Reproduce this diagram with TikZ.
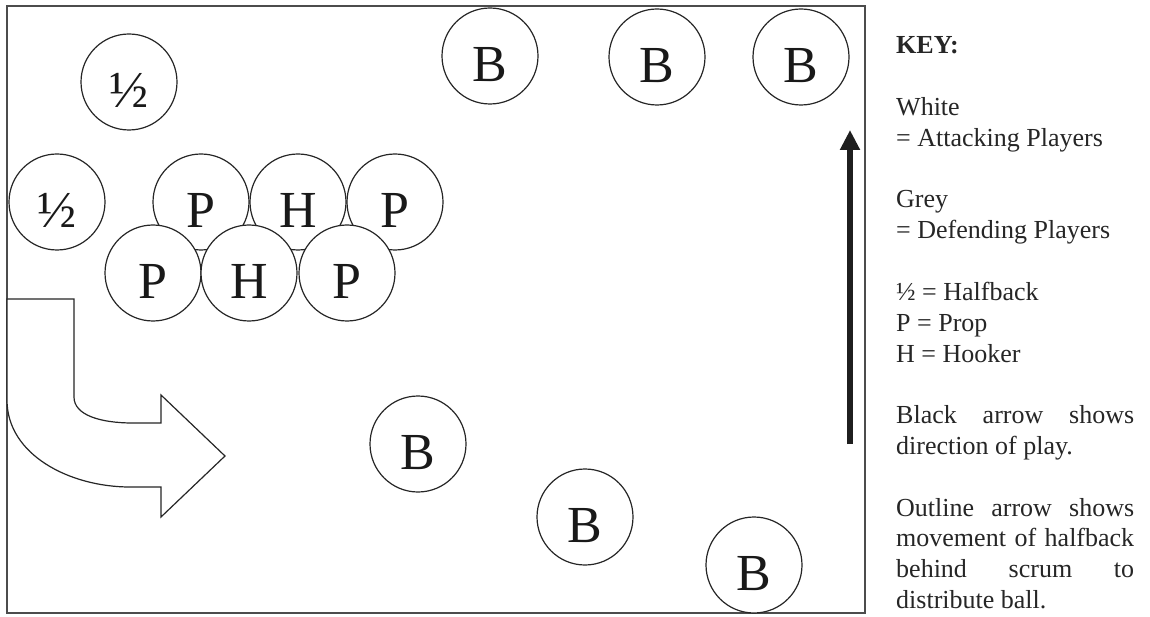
\documentclass[tikz,border=0pt]{standalone}
\usepackage{fontspec}
\setmainfont{Liberation Serif}
\usetikzlibrary{arrows.meta}
\newcommand\plfont{\fontsize{52}{52}\selectfont}
\newcommand\keyfnt{\fontsize{26}{30.8}\selectfont}
\tikzset{
  player/.style={circle, draw=black!85, line width=1.2pt, fill=white,
    minimum size=96pt, inner sep=0pt, font=\plfont, text=black!90,
    text height=51pt, text depth=0pt},
  keyline/.style={anchor=base west, inner sep=0pt, font=\keyfnt, text=black!85},
  fieldframe/.style={draw=black!70, line width=1.4pt},
  playarrow/.style={line width=6pt, draw=black!88, -{Triangle[width=19pt,length=20pt]}},
  movearrow/.style={draw=black!85, line width=1.2pt, fill=white, line join=miter}
}
\begin{document}
\begin{tikzpicture}[x=1pt,y=-1pt]
\useasboundingbox[fill=white] (0,0) rectangle (1150,617);
% field
\draw[fieldframe] (7,6) rectangle (865,613);
% outline arrow
\draw[movearrow] (7,299) -- (74,299) -- (74,397)
  .. controls (74,415) and (100,423) .. (133,423) -- (161,423) -- (161,395)
  -- (225,456) -- (161,517) -- (161,487) -- (130,487)
  .. controls (70,487) and (7,455) .. (7,400) -- cycle;
% halfbacks
\node[player] (h1) at (129,82) {½};
\node[player] (h2) at (57,202) {½};
% scrum top row
\node[player] (tp1) at (201,202) {P};
\node[player] (th)  at (298,202) {H};
\node[player] (tp2) at (395,202) {P};
% scrum bottom row
\node[player] (bp1) at (153,273) {P};
\node[player] (bh)  at (249,273) {H};
\node[player] (bp2) at (347,273) {P};
% backs
\node[player] (b1) at (490,56) {B};
\node[player] (b2) at (657,57) {B};
\node[player] (b3) at (801,57) {B};
\node[player] (b4) at (418,444) {B};
\node[player] (b5) at (585,517) {B};
\node[player] (b6) at (754,565) {B};
% direction of play
\coordinate (pa0) at (850,444);
\coordinate (pa1) at (850,130);
\draw[playarrow] (pa0) -- (pa1);
% key
\node[keyline] (k0) at (896,54) {\textbf{KEY:}};
\node[keyline] (k1) at (896,115.6) {White};
\node[keyline] (k2) at (896,146.4) {= Attacking Players};
\node[keyline] (k3) at (896,208) {Grey};
\node[keyline] (k4) at (896,238.8) {= Defending Players};
\node[keyline] (k5) at (896,300.4) {½ = Halfback};
\node[keyline] (k6) at (896,331.2) {P = Prop};
\node[keyline] (k7) at (896,362) {H = Hooker};
\node[keyline] (k8) at (896,423.6) {\hbox to 238pt{Black\hfill arrow\hfill shows}};
\node[keyline] (k9) at (896,454.4) {direction of play.};
\node[keyline] (k10) at (896,516) {\hbox to 238pt{Outline\hfill arrow\hfill shows}};
\node[keyline] (k11) at (896,546.8) {\hbox to 238pt{movement\hfill of\hfill halfback}};
\node[keyline] (k12) at (896,577.6) {\hbox to 238pt{behind\hfill scrum\hfill to}};
\node[keyline] (k13) at (896,608.4) {distribute ball.};
\end{tikzpicture}
\end{document}
